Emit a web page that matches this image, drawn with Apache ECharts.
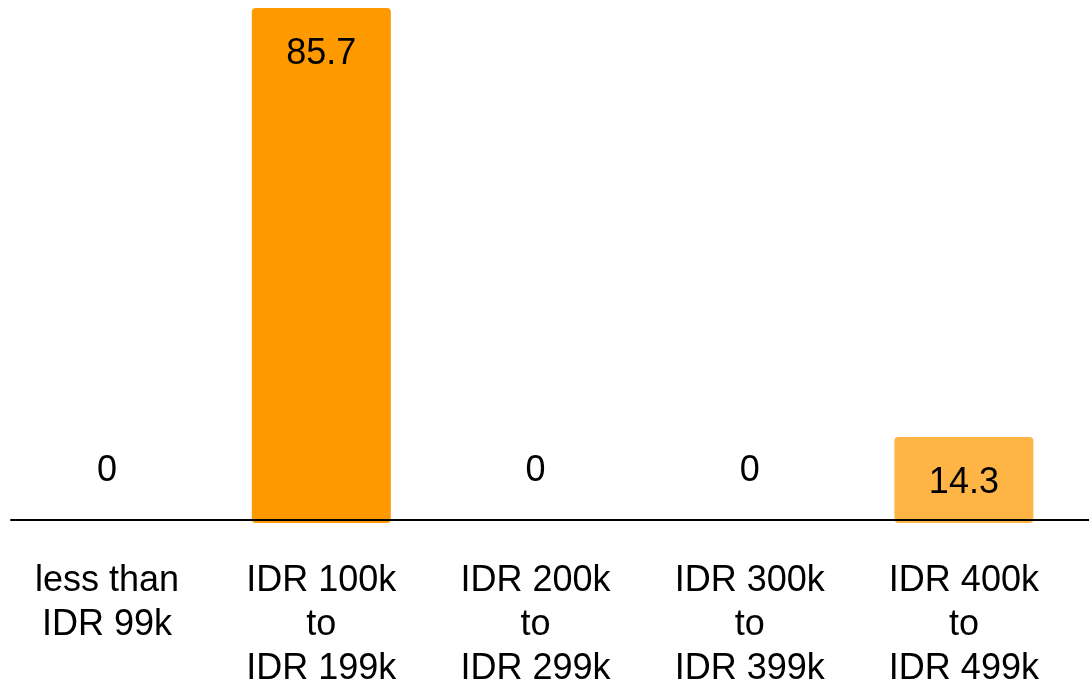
<!DOCTYPE html>
<html>
<head>
<meta charset="utf-8">
<script src="https://cdn.jsdelivr.net/npm/echarts@6/dist/echarts.min.js"></script>
<style>
  html, body { margin: 0; padding: 0; background: #fff; }
  #chart { width: 1089px; height: 681px; }
</style>
</head>
<body>
<div id="chart"></div>
<script>
// Spending brackets and share of respondents (%)
const categories = [
  'less than\nIDR 99k',
  'IDR 100k\nto\nIDR 199k',
  'IDR 200k\nto\nIDR 299k',
  'IDR 300k\nto\nIDR 399k',
  'IDR 400k\nto\nIDR 499k'
];
const shares = [0, 85.7, 0, 0, 14.3];
const barColors = ['#FF9900', '#FF9900', '#FF9900', '#FF9900', '#FFB446'];

const FONT = '"Liberation Sans", Arial, sans-serif';

const barData = shares.map((v, i) => ({
  value: v,
  itemStyle: { color: barColors[i] },
  label: v === 0
    ? { position: 'top', distance: 34 }
    : { position: 'insideTop', distance: 28 }
}));

const chart = echarts.init(document.getElementById('chart'), null, { renderer: 'canvas' });
chart.setOption({
  animation: false,
  backgroundColor: '#ffffff',
  grid: [
    { left: 0, right: 18, top: 8, bottom: 158, containLabel: false, outerBoundsMode: 'none' },
    { left: 11, right: 0, top: 8, bottom: 161, containLabel: false, outerBoundsMode: 'none' }
  ],
  xAxis: [
    {
      type: 'category',
      gridIndex: 0,
      data: categories,
      axisLine: { show: false },
      axisTick: { show: false },
      axisLabel: {
        color: '#000',
        fontFamily: FONT,
        fontSize: 36,
        lineHeight: 44,
        margin: 36,
        interval: 0
      }
    },
    {
      // baseline drawn above the bars
      type: 'category',
      gridIndex: 1,
      z: 5,
      data: categories,
      axisLine: { show: true, lineStyle: { color: '#000', width: 2 } },
      axisTick: { show: false },
      axisLabel: { show: false }
    }
  ],
  yAxis: [
    { type: 'value', gridIndex: 0, min: 0, max: 85.7, show: false },
    { type: 'value', gridIndex: 1, min: 0, max: 1, show: false }
  ],
  series: [{
    type: 'bar',
    xAxisIndex: 0,
    yAxisIndex: 0,
    data: barData,
    barWidth: 139,
    itemStyle: { borderRadius: 4 },
    label: {
      show: true,
      color: '#000',
      fontFamily: FONT,
      fontSize: 36,
      formatter: p => String(p.value)
    }
  }]
});
</script>
</body>
</html>
